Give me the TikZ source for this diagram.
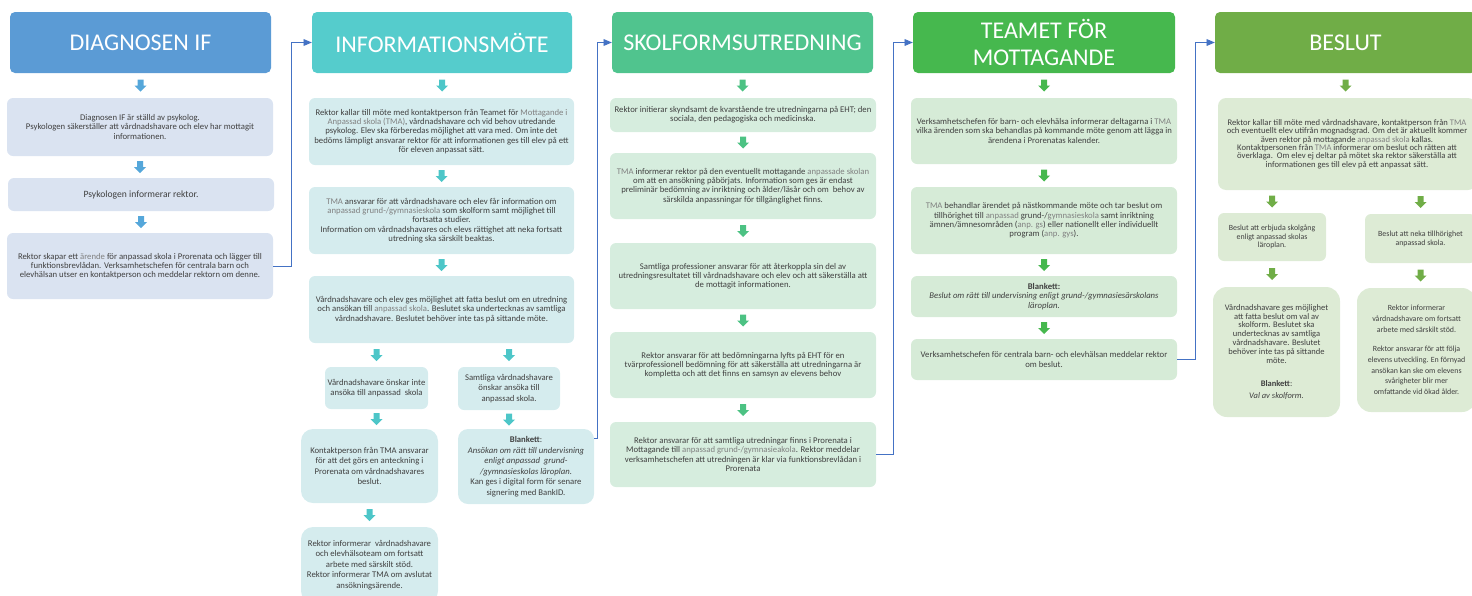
\documentclass[tikz,border=0pt]{standalone}
\usepackage{fontspec}
\setmainfont{Carlito}
\usepackage{tikz}
\usetikzlibrary{positioning}
\usetikzlibrary{calc}
\usetikzlibrary{arrows}
\definecolor{headA}{HTML}{5B9BD5}
\definecolor{headB}{HTML}{55CCCC}
\definecolor{headC}{HTML}{50C48E}
\definecolor{headD}{HTML}{46B84E}
\definecolor{headE}{HTML}{70AD47}
\definecolor{boxA}{HTML}{DAE3F1}
\definecolor{boxB}{HTML}{D5ECEE}
\definecolor{boxC}{HTML}{D6EDDE}
\definecolor{boxD}{HTML}{D6EBD7}
\definecolor{boxE}{HTML}{DDEBD5}
\definecolor{arrA}{HTML}{55A7DA}
\definecolor{arrB}{HTML}{4DC6C8}
\definecolor{arrC}{HTML}{4CC283}
\definecolor{arrD}{HTML}{46B84E}
\definecolor{arrE}{HTML}{70AD47}
\definecolor{connblue}{HTML}{4472C4}
\definecolor{txt}{HTML}{404040}
\definecolor{txtlight}{HTML}{808080}
\tikzset{headbox/.style={rounded corners=5pt, text=white, font=\fontsize{24}{27}\selectfont, align=center, inner sep=0pt, minimum height=61pt}}
\tikzset{infobox/.style={rounded corners=6pt, text=txt, font=\fontsize{8.7}{9.3}\selectfont, align=center, inner sep=1pt}}
\tikzset{smalltext/.style={font=\fontsize{8.7}{10.5}\selectfont}}
\tikzset{conn/.style={draw=connblue, line width=0.9pt, ->, >=triangle 45}}
\newcommand{\gry}[1]{\textcolor{txtlight}{#1}}
% down block arrow centred on a point
\newcommand{\blockarr}[2]{\fill[#1] (#2) ++(-3,-6) -- ++(6,0) -- ++(0,6) -- ++(3,0) -- ++(-6,6) -- ++(-6,-6) -- ++(3,0) -- cycle;}

\begin{document}
\begin{tikzpicture}[x=1pt,y=-1pt]
\useasboundingbox (0,0) rectangle (1472,595);
% headers
\node[headbox, fill=headA, minimum width=261pt] (h1) at (140.5,42.5) {DIAGNOSEN IF};
\node[headbox, fill=headB, minimum width=260pt] (h2) at (442,42.5) {INFORMATIONSMÖTE};
\node[headbox, fill=headC, minimum width=261pt] (h3) at (742.5,42.5) {SKOLFORMSUTREDNING};
\node[headbox, fill=headD, minimum width=262pt] (h4) at (1044,42.5) {TEAMET FÖR\\MOTTAGANDE};
\node[headbox, fill=headE, minimum width=261pt] (h5) at (1345.5,42.5) {BESLUT};

% diagnosen
\node[infobox, fill=boxA, minimum width=266pt, minimum height=58pt] (b1) at (140,127)
  {Diagnosen IF är ställd av psykolog.\\Psykologen säkerställer att vårdnadshavare och elev har mottagit\\informationen.};
\node[infobox, fill=boxA, minimum width=266pt, minimum height=33pt, font=\fontsize{9.6}{10}\selectfont] (b2) at (141,194.5)
  {Psykologen informerar rektor.};
\node[infobox, fill=boxA, minimum width=266pt, minimum height=66pt] (b3) at (140,266)
  {Rektor skapar ett \gry{ärende} för anpassad skola i Prorenata och lägger till\\funktionsbrevlådan. Verksamhetschefen för centrala barn och\\elevhälsan utser en kontaktperson och meddelar rektorn om denne.};

% informationsmote
\node[infobox, fill=boxB, minimum width=265pt, minimum height=67pt] (c1) at (441.5,131.5)
  {Rektor kallar till möte med kontaktperson från Teamet för \gry{Mottagande i}\\\gry{Anpassad skola (TMA)}, vårdnadshavare och vid behov utredande\\psykolog. Elev ska förberedas möjlighet att vara med. Om inte det\\bedöms lämpligt ansvarar rektor för att informationen ges till elev på ett\\för eleven anpassat sätt.};
\node[infobox, fill=boxB, minimum width=265pt, minimum height=67pt] (c2) at (441.5,220.5)
  {\gry{TMA} ansvarar för att vårdnadshavare och elev får information om\\\gry{anpassad grund-/gymnasieskola} som skolform samt möjlighet till\\fortsatta studier.\\Information om vårdnadshavares och elevs rättighet att neka fortsatt\\utredning ska särskilt beaktas.};
\node[infobox, fill=boxB, minimum width=265pt, minimum height=67pt] (c3) at (441.5,309.5)
  {Vårdnadshavare och elev ges möjlighet att fatta beslut om en utredning\\och ansökan till \gry{anpassad skola}. Beslutet ska undertecknas av samtliga\\vårdnadshavare. Beslutet behöver inte tas på sittande möte.};
\node[infobox, smalltext, fill=boxB, minimum width=103pt, minimum height=42pt] (c4) at (376.5,388)
  {Vårdnadshavare önskar inte\\ansöka till anpassad\ \ skola};
\node[infobox, smalltext, fill=boxB, minimum width=102pt, minimum height=43pt] (c5) at (509,388.5)
  {Samtliga vårdnadshavare\\önskar ansöka till\\anpassad skola.};
\node[infobox, smalltext, fill=boxB, rounded corners=12pt, minimum width=137pt, minimum height=74pt] (c6) at (369.5,466)
  {Kontaktperson från TMA ansvarar\\för att det görs en anteckning i\\Prorenata om vårdnadshavares\\beslut.};
\node[infobox, smalltext, fill=boxB, rounded corners=10pt, minimum width=136pt, minimum height=75pt] (c7) at (526,466.5)
  {\textbf{Blankett}:\\\textit{Ansökan om rätt till undervisning}\\\textit{enligt anpassad\ \ grund-}\\\textit{/gymnasieskolas läroplan.}\\Kan ges i digital form för senare\\signering med BankID.};
\node[infobox, smalltext, fill=boxB, rounded corners=12pt, minimum width=137pt, minimum height=76pt] (c8) at (369.5,565)
  {Rektor informerar\ \ vårdnadshavare\\och elevhälsoteam om fortsatt\\arbete med särskilt stöd.\\Rektor informerar TMA om avslutat\\ansökningsärende.};

% skolformsutredning
\node[infobox, fill=boxC, minimum width=266pt, minimum height=34pt] (d1) at (743,115)
  {Rektor initierar skyndsamt de kvarstående tre utredningarna på EHT; den\\sociala, den pedagogiska och medicinska.};
\node[infobox, fill=boxC, minimum width=266pt, minimum height=66pt] (d2) at (743,186)
  {\gry{TMA} informerar rektor på den eventuellt mottagande \gry{anpassade skolan}\\om att en ansökning påbörjats. Information som ges är endast\\preliminär bedömning av inriktning och ålder/läsår och om\ \ behov av\\särskilda anpassningar för tillgänglighet finns.};
\node[infobox, fill=boxC, minimum width=266pt, minimum height=66pt] (d3) at (743,276)
  {Samtliga professioner ansvarar för att återkoppla sin del av\\utredningsresultatet till vårdnadshavare och elev och att säkerställa att\\de mottagit informationen.};
\node[infobox, fill=boxC, minimum width=266pt, minimum height=66pt] (d4) at (743,365)
  {Rektor ansvarar för att bedömningarna lyfts på EHT för en\\tvärprofessionell bedömning för att säkerställa att utredningarna är\\kompletta och att det finns en samsyn av elevens behov};
\node[infobox, fill=boxC, minimum width=266pt, minimum height=65pt] (d5) at (743,454.5)
  {Rektor ansvarar för att samtliga utredningar finns i Prorenata i\\Mottagande till \gry{anpassad grund-/gymnasieakola}. Rektor meddelar\\verksamhetschefen att utredningen är klar via funktionsbrevlådan i\\Prorenata};

% teamet
\node[infobox, fill=boxD, minimum width=266pt, minimum height=66pt] (e1) at (1044,131)
  {Verksamhetschefen för barn- och elevhälsa informerar deltagarna i \gry{TMA}\\vilka ärenden som ska behandlas på kommande möte genom att lägga in\\ärendena i Prorenatas kalender.};
\node[infobox, fill=boxD, minimum width=266pt, minimum height=67pt] (e2) at (1044,220.5)
  {\gry{TMA} behandlar ärendet på nästkommande möte och tar beslut om\\tillhörighet till \gry{anpassad} grund-/\gry{gymnasieskola} samt inriktning\\ämnen/ämnesområden (\gry{anp. gs}) eller nationellt eller individuellt\\program (\gry{anp. gys}).};
\node[infobox, fill=boxD, minimum width=266pt, minimum height=41pt] (e3) at (1044,296.5)
  {\textbf{Blankett:}\\\textit{Beslut om rätt till undervisning enligt grund-/gymnasiesärskolans}\\\textit{läroplan.}};
\node[infobox, fill=boxD, minimum width=266pt, minimum height=41pt] (e4) at (1044,359.5)
  {Verksamhetschefen för centrala barn- och elevhälsan meddelar rektor\\om beslut.};

% beslut
\node[infobox, fill=boxE, rounded corners=8pt, minimum width=258pt, minimum height=92pt, font=\fontsize{8.6}{8.4}\selectfont] (f1) at (1347,144)
  {Rektor kallar till möte med vårdnadshavare, kontaktperson från \gry{TMA}\\och eventuellt elev utifrån mognadsgrad. Om det är aktuellt kommer\\även rektor på mottagande \gry{anpassad skola} kallas.\\Kontaktpersonen från \gry{TMA} informerar om beslut och rätten att\\överklaga.\ \ Om elev ej deltar på mötet ska rektor säkerställa att\\informationen ges till elev på ett anpassat sätt.};
\node[infobox, fill=boxE, minimum width=108pt, minimum height=48pt, font=\fontsize{7.9}{8.2}\selectfont] (f2) at (1272,237)
  {Beslut att erbjuda skolgång\\enligt anpassad skolas\\läroplan.};
\node[infobox, fill=boxE, minimum width=111pt, minimum height=49pt, font=\fontsize{7.9}{9}\selectfont] (f3) at (1420.5,238.5)
  {Beslut att neka tillhörighet\\anpassad skola.};
\node[infobox, fill=boxE, rounded corners=14pt, minimum width=127pt, minimum height=130pt, font=\fontsize{8.5}{8.8}\selectfont] (f4) at (1276.5,352)
  {Vårdnadshavare ges möjlighet\\att fatta beslut om val av\\skolform. Beslutet ska\\undertecknas av samtliga\\vårdnadshavare. Beslutet\\behöver inte tas på sittande\\möte.\\[15pt]\textbf{Blankett}:\\[3pt]\textit{Val av skolform.}};
\node[infobox, fill=boxE, rounded corners=14pt, minimum width=119pt, minimum height=124pt, font=\fontsize{7.9}{10.7}\selectfont] (f5) at (1416.5,350)
  {Rektor informerar\\vårdnadshavare om fortsatt\\arbete med särskilt stöd.\\[9pt]Rektor ansvarar för att följa\\elevens utveckling. En förnyad\\ansökan kan ske om elevens\\svårigheter blir mer\\omfattande vid ökad ålder.};

% block arrows
\foreach \a/\b in {h1/b1,b1/b2,b2/b3}
  {\blockarr{arrA}{$(\a.south)!.5!(\a.south |- \b.north)$}}
\foreach \a/\b in {h2/c1,c1/c2,c2/c3,c4/c6,c5/c7,c6/c8}
  {\blockarr{arrB}{$(\a.south)!.5!(\a.south |- \b.north)$}}
\foreach \a/\b in {c3/c4,c3/c5}
  {\blockarr{arrB}{$(\b.north)!.5!(\b.north |- \a.south)$}}
\foreach \a/\b in {h3/d1,d1/d2,d2/d3,d3/d4,d4/d5}
  {\blockarr{arrC}{$(\a.south)!.5!(\a.south |- \b.north)$}}
\foreach \a/\b in {h4/e1,e1/e2,e2/e3,e3/e4}
  {\blockarr{arrD}{$(\a.south)!.5!(\a.south |- \b.north)$}}
\foreach \a/\b in {h5/f1,f2/f4,f3/f5}
  {\blockarr{arrE}{$(\a.south)!.5!(\a.south |- \b.north)$}}
\foreach \a/\b in {f1/f2,f1/f3}
  {\blockarr{arrE}{$(\b.north)!.5!(\b.north |- \a.south)$}}

% links to next phase
\coordinate (c7out) at (594,438);
\draw[conn] (b3.east) -- ++(18,0) |- (h2.west);
\draw[conn] (c7out) -- ++(3,0) |- (h3.west);
\draw[conn] (d5.east) -- ++(17,0) |- (h4.west);
\draw[conn] (e4.east) -- ++(18,0) |- (h5.west);
\end{tikzpicture}
\end{document}
